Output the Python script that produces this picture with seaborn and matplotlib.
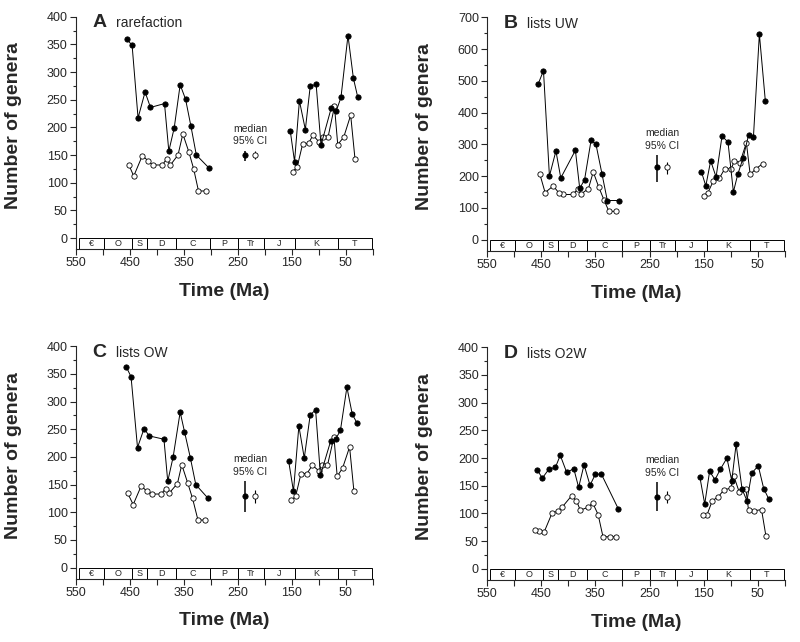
import numpy as np
import pandas as pd
import matplotlib
matplotlib.use("Agg")
import matplotlib.pyplot as plt
from matplotlib.patches import Rectangle
import seaborn as sns

# geologic time scale drawn along the foot of every panel
period_bounds = [545, 499, 446, 419, 365, 301, 249, 202, 144, 65, 1.8]
period_names = ["€", "O", "S", "D", "C", "P", "Tr", "J", "K", "T"]

# A - rarefaction
a_solid_t = [456, 446, 435, 422, 412, 386, 378, 368, 357, 347, 337, 327, 304,
             153, 145, 136, 125, 116, 105, 96, 77, 68, 59, 46, 36, 28]
a_solid_n = [360, 348, 217, 264, 236, 243, 157, 199, 277, 251, 202, 150, 127,
             194, 138, 248, 196, 274, 278, 168, 235, 229, 254, 366, 289, 255]
a_open_t = [452, 443, 427, 417, 408, 390, 382, 375, 361, 352, 341, 332, 323, 310,
            148, 140, 130, 119, 111, 99, 92, 83, 71, 65, 54, 41, 33]
a_open_n = [132, 112, 149, 140, 132, 132, 143, 132, 150, 188, 156, 125, 85, 85,
            120, 129, 170, 171, 186, 173, 182, 182, 238, 169, 182, 222, 143]

# B - lists UW
b_solid_t = [456, 446, 435, 423, 414, 387, 379, 370, 358, 349, 338, 328, 306,
             154, 146, 137, 127, 116, 105, 95, 87, 77, 67, 58, 47, 36]
b_solid_n = [489, 532, 200, 279, 194, 281, 161, 189, 313, 300, 208, 123, 123,
             213, 169, 248, 197, 326, 307, 150, 205, 257, 329, 322, 647, 437]
b_open_t = [453, 443, 428, 418, 410, 392, 383, 377, 363, 354, 344, 334, 325, 312,
            150, 142, 132, 121, 111, 99, 93, 83, 71, 64, 54, 41]
b_open_n = [208, 148, 169, 148, 142, 142, 158, 143, 160, 213, 166, 124, 89, 89,
            137, 148, 185, 193, 223, 223, 249, 242, 305, 205, 222, 239]

# C - lists OW
c_solid_t = [457, 448, 436, 424, 414, 387, 380, 370, 357, 349, 338, 328, 305,
             156, 147, 137, 127, 116, 106, 97, 78, 69, 60, 48, 38, 29]
c_solid_n = [363, 345, 217, 251, 238, 232, 156, 200, 281, 246, 198, 150, 125,
             193, 138, 256, 198, 276, 285, 167, 229, 232, 248, 326, 277, 261]
c_open_t = [454, 444, 429, 419, 410, 392, 384, 377, 362, 354, 343, 334, 324, 311,
            151, 143, 133, 122, 112, 100, 94, 84, 72, 66, 56, 43, 35]
c_open_n = [134, 114, 148, 138, 133, 133, 143, 135, 152, 186, 153, 125, 86, 86,
            122, 129, 170, 170, 185, 175, 185, 185, 236, 165, 180, 218, 138]

# D - lists O2W
d_solid_t = [458, 448, 436, 424, 415, 403, 390, 381, 371, 360, 350, 339, 308,
             157, 148, 139, 129, 119, 107, 98, 90, 79, 70, 61, 49, 39, 30]
d_solid_n = [179, 164, 180, 183, 205, 174, 181, 147, 188, 151, 171, 171, 109,
             166, 117, 176, 161, 180, 200, 159, 225, 144, 123, 173, 186, 145, 127]
d_open_t = [462, 454, 445, 430, 420, 411, 394, 385, 378, 364, 355, 345, 336, 323, 312,
            152, 144, 134, 123, 113, 100, 94, 84, 72, 67, 56, 43, 35]
d_open_n = [70, 68, 66, 101, 104, 112, 132, 123, 106, 111, 119, 98, 58, 58, 58,
            97, 97, 123, 130, 142, 146, 167, 138, 145, 106, 105, 107, 60]

# medians with 95% CI (filled, open)
median_t = [236, 218]
a_med, a_lo, a_hi = [150, 150], [140, 142], [158, 158]
b_med, b_lo, b_hi = [227, 227], [182, 208], [266, 245]
c_med, c_lo, c_hi = [129, 129], [101, 117], [156, 141]
d_med, d_lo, d_hi = [130, 130], [104, 119], [156, 141]

sns.set_style("ticks")
plt.rcParams["font.family"] = ["Liberation Sans", "DejaVu Sans"]
plt.rcParams["axes.linewidth"] = 0.8


def to_df(t, n):
    df = pd.DataFrame({"time": t, "genera": n})
    # a big jump in time (the Permian-Triassic gap) starts a new segment
    df["seg"] = (df["time"].diff().abs() > 80).cumsum()
    return df


def draw_panel(ax, letter, title, solid_t, solid_n, open_t, open_n,
               med, lo, hi, ymax, step):
    bar_h = 0.05 * ymax
    ax.set_xlim(550, 0)
    ax.set_ylim(-bar_h, ymax)

    # time scale bar
    for i, name in enumerate(period_names):
        x0, x1 = period_bounds[i], period_bounds[i + 1]
        ax.add_patch(Rectangle((x1, -bar_h), x0 - x1, bar_h, facecolor="white",
                               edgecolor="k", lw=0.7, zorder=1))
        ax.text((x0 + x1) / 2, -bar_h / 2, name, ha="center", va="center",
                fontsize=6.5, zorder=2)

    sns.lineplot(data=to_df(open_t, open_n), x="time", y="genera", units="seg",
                 estimator=None, color="k", lw=0.7, marker="o", ms=3.8,
                 markerfacecolor="white", markeredgecolor="k",
                 markeredgewidth=0.6, ax=ax, legend=False, zorder=3)
    sns.lineplot(data=to_df(solid_t, solid_n), x="time", y="genera", units="seg",
                 estimator=None, color="k", lw=0.7, marker="o", ms=3.8,
                 markerfacecolor="k", markeredgecolor="k",
                 markeredgewidth=0.6, ax=ax, legend=False, zorder=4)

    # medians with confidence intervals
    for i, face in enumerate(["k", "white"]):
        ax.errorbar(median_t[i], med[i], yerr=[[med[i] - lo[i]], [hi[i] - med[i]]],
                    fmt="o", color="k", ms=3.8, mfc=face, mec="k", mew=0.6,
                    elinewidth=1.1 if i == 0 else 0.8, capsize=0, zorder=5)
    ax.annotate("median\n95% CI", xy=(np.mean(median_t), max(hi)),
                xytext=(0, 3), textcoords="offset points", ha="center",
                va="bottom", fontsize=7.5, linespacing=1.35)

    ax.text(0.055, 0.973, letter, transform=ax.transAxes, fontsize=14,
            fontweight="bold", va="center", ha="left")
    ax.text(0.135, 0.973, title, transform=ax.transAxes, fontsize=10,
            va="center", ha="left")

    ax.set_xticks(range(550, 0, -100))
    ax.set_xticks(range(500, -1, -100), minor=True)
    ax.set_yticks(np.arange(0, ymax + 1, step))
    ax.set_yticks(np.arange(step / 2, ymax, step), minor=True)
    ax.tick_params(axis="both", which="major", direction="out", length=4,
                   width=0.8, labelsize=9, pad=2)
    ax.tick_params(axis="x", which="minor", direction="out", length=4, width=0.8)
    ax.tick_params(axis="y", which="minor", direction="out", length=2, width=0.8)
    ax.set_xlabel("Time (Ma)", fontsize=14, fontweight="bold")
    ax.set_ylabel("Number of genera", fontsize=14, fontweight="bold")
    ax.xaxis.set_label_coords(0.5, -0.145)
    ax.yaxis.set_label_coords(-0.182, 0.53)
    sns.despine(ax=ax)


fig = plt.figure(figsize=(8, 6.42), dpi=100)
ax_a = fig.add_axes([0.095, 0.612, 0.371, 0.362])
ax_b = fig.add_axes([0.609, 0.6095, 0.372, 0.3636])
ax_c = fig.add_axes([0.095, 0.0986, 0.371, 0.362])
ax_d = fig.add_axes([0.609, 0.0966, 0.372, 0.3625])

draw_panel(ax_a, "A", "rarefaction", a_solid_t, a_solid_n, a_open_t, a_open_n,
           a_med, a_lo, a_hi, 400, 50)
draw_panel(ax_b, "B", "lists UW", b_solid_t, b_solid_n, b_open_t, b_open_n,
           b_med, b_lo, b_hi, 700, 100)
draw_panel(ax_c, "C", "lists OW", c_solid_t, c_solid_n, c_open_t, c_open_n,
           c_med, c_lo, c_hi, 400, 50)
draw_panel(ax_d, "D", "lists O2W", d_solid_t, d_solid_n, d_open_t, d_open_n,
           d_med, d_lo, d_hi, 400, 50)

plt.savefig("out.png", dpi=100)
